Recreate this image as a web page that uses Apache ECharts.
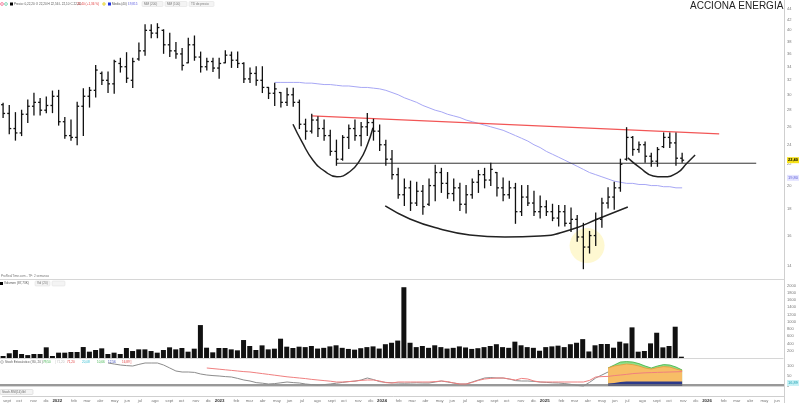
<!DOCTYPE html>
<html><head><meta charset="utf-8">
<script src="https://cdn.jsdelivr.net/npm/echarts@6/dist/echarts.min.js"></script>
<style>html,body{margin:0;padding:0;background:#fff}#c{width:799px;height:403px}</style>
</head><body><div id="c"></div>
<script>
// ---------- DATA (2-week bars, index 0 = early Sept 2021) ----------
const barOpen = [28.7,27.6,25.8,25.3,27.5,28.5,29.0,28.0,28.6,29.8,26.6,25.0,24.8,28.5,29.8,30.6,33.0,32.0,31.5,34.5,34.0,32.0,35.2,36.5,40.0,39.5,40.0,37.5,36.5,36.0,34.6,37.5,35.5,34.0,34.8,33.8,34.6,35.8,35.0,34.5,32.2,33.0,32.0,31.0,30.2,30.3,29.0,30.0,29.0,
 26.3,25.5,26.8,25.8,25.0,23.3,22.5,24.8,25.8,25.0,26.0,26.5,25.5,24.0,22.5,21.0,19.2,19.8,18.5,19.5,18.4,20.0,21.2,20.2,19.3,19.8,18.4,19.2,20.3,21.0,20.5,21.2,19.8,19.2,19.8,17.8,19.0,18.5,17.8,18.2,17.8,17.3,17.8,16.9,17.2,15.9,15.2,16.0,
 17.2,18.5,19.0,19.8,22.5,24.8,23.5,24.0,22.8,22.3,23.8,24.8,24.2,22.6];
const barHigh = [28.9,28.6,27.7,28.0,29.3,30.2,29.5,29.7,30.5,30.6,27.1,26.8,29.0,30.8,31.0,34.2,33.2,33.2,35.0,35.3,36.2,35.3,37.8,41.0,41.0,41.2,40.1,39.5,37.9,36.9,38.6,39.0,36.3,35.3,35.3,35.3,36.5,36.3,36.3,34.6,33.8,34.0,34.0,31.0,31.6,30.3,30.9,30.9,29.3,
 26.9,27.5,27.2,26.8,25.6,24.5,25.0,26.2,26.8,26.5,27.6,26.9,26.2,24.5,23.4,21.6,20.6,20.4,20.3,20.0,20.6,21.9,21.6,21.2,20.6,20.2,20.0,20.6,21.4,21.6,22.1,21.2,20.7,20.4,20.2,20.0,20.0,19.5,19.1,18.7,18.4,18.3,18.3,18.1,17.5,16.9,16.3,17.7,
 18.9,19.8,20.3,22.5,25.9,24.9,24.3,24.3,23.1,23.7,25.3,25.3,25.3,23.1];
const barLow = [27.1,25.2,24.5,25.0,26.5,27.4,27.4,27.7,27.7,26.2,24.7,24.5,24.0,25.0,28.4,29.7,31.4,30.3,30.2,33.2,31.7,31.0,35.0,35.8,38.7,38.7,36.1,35.6,35.3,33.5,34.6,35.0,33.2,33.5,33.3,32.3,34.6,33.9,33.9,31.7,31.7,31.3,30.3,29.5,28.6,28.4,28.6,28.5,25.8,
 24.6,25.3,24.9,24.5,22.9,21.9,22.4,23.6,24.5,23.9,25.0,24.5,23.4,21.9,20.6,18.9,18.3,17.9,18.3,17.6,18.3,18.7,19.4,18.9,18.7,17.9,17.7,18.9,19.4,19.8,20.0,19.1,18.7,18.9,16.9,17.5,18.3,17.5,17.3,17.5,17.1,16.7,16.7,16.3,15.6,13.8,14.8,15.3,
 16.6,18.1,18.0,19.5,22.4,22.9,23.2,22.2,21.8,21.8,23.7,23.7,21.9,22.2];
const barClose = [27.6,25.8,25.3,27.5,28.5,29.0,28.0,28.6,29.8,26.6,25.0,24.8,28.5,29.8,30.6,33.5,32.0,31.5,34.8,34.0,32.3,34.8,36.5,40.0,39.5,40.5,37.5,36.5,36.0,34.2,37.5,35.5,34.0,34.8,33.8,34.5,35.8,35.0,34.5,32.2,33.0,32.0,31.0,30.2,30.8,29.0,30.0,29.0,26.3,
 25.5,26.8,25.8,25.0,23.3,22.5,24.8,25.8,25.0,26.0,26.5,25.5,24.0,22.5,21.0,19.2,19.8,18.5,19.5,18.2,20.0,21.2,20.2,19.3,19.8,18.4,19.2,20.3,21.0,20.5,21.5,19.8,19.2,19.8,17.8,19.0,18.5,17.8,18.2,17.8,17.3,17.8,16.9,17.2,15.9,15.2,16.0,17.2,
 18.5,19.0,19.8,22.0,24.8,23.5,24.0,22.8,22.3,23.5,24.8,24.2,22.6,22.4];
const volume = [55,130,220,110,80,110,110,294,55,147,147,165,165,302,174,220,266,110,147,110,275,192,238,238,192,147,220,294,238,275,174,257,907,284,156,275,275,238,211,495,330,220,348,238,257,532,312,275,312,
 300,330,260,280,320,350,280,250,230,270,300,320,260,380,420,480,1950,420,300,330,280,350,300,260,280,320,290,250,270,300,330,380,300,280,450,350,300,280,200,300,320,340,300,380,420,520,180,350,
 385,385,284,449,403,844,174,193,403,696,293,330,862,36];
const maStart = 44;
const ma200 = [31.7,31.7,31.7,31.7,31.7,31.6,31.6,31.5,31.4,31.4,31.3,31.2,31.2,31.1,31.0,31.0,30.9,30.8,30.6,30.3,30.0,29.6,29.3,29.0,28.6,28.3,28.0,27.8,27.5,27.3,27.1,26.8,26.6,26.4,26.2,26.0,25.8,25.6,25.3,25.0,24.7,24.4,24.0,23.7,23.3,23.0,22.7,22.4,22.1,21.8,21.5,21.2,21.0,20.8,20.6,20.4,20.3,20.2,20.2,20.1,20.1,20.0,20.0,19.9,19.9,19.8,19.8];
const stochKStart = 17;
const stochK = [115,110,105,102,100,108,115,115,115,105,90,75,70,70,68,60,55,52,50,47,45,38,30,25,17,14,10,12,16,20,17,15,10,7,5,7,10,14,18,22,24,30,40,32,22,18,16,15,14,15,16,15,15,20,25,20,15,10,10,20,30,40,42,40,40,35,27,25,25,23,20,18,16,15,12,8,3,0,18,40,55,70];
const stochDStart = 33;
const stochD = [90,87,84,81,78,75,72,70,66,62,58,54,50,46,43,40,37,33,30,27,24,20,20,22,25,28,30,30,25,17,15,20,20,20,20,20,20,22,25,22,15,10,10,18,28,35,38,40,40,35,30,38,35,25,20,20,20,20,20,20,20,20,28,45,47,48,52,55,58,62,64,66,67,68,69,70,71,72];
const fillStart = 98;
const fillNavyTop   = [12,15,20,22,22,22,22,22,22,22,22,22,22];
const fillOrangeTop = [90,100,105,110,107,100,90,85,92,97,95,85,77];
const fillGreenTop  = [90,105,120,122,120,112,100,90,100,107,105,95,80];
// drawn annotations, in [bar index, price]
const resistanceLine = [[50,27.3],[116,25.2]];
const necklineLine = [[54,22.1],[122,22.1]];
const arcLeft  = [[46.96,26.3],[48.42,24.3],[50.2,22.4],[52.15,21.3],[54.09,20.8],[56.2,21.3],[57.8,22.4],[58.95,23.9],[59.92,25.9]];
const arcBig   = [[61.9,18.26],[65.9,17.23],[70.8,16.48],[75.6,16.04],[81.3,15.9],[87.0,15.97],[91.8,16.4],[96.7,17.31],[101.2,18.18]];
const arcRight = [[101.2,22.63],[103.2,21.64],[105.3,20.88],[106.9,20.8],[109.2,21.16],[110.8,22.12],[112.1,22.93]];
const lowMarker = [94.6,15.3];
// axis ticks / labels
const priceTicks = [14,16,18,20,22,24,26,28,30,32,34,36,38,40,42,44];
const stochTicks = [0,50,100];
const monthNames = ['ene','feb','mar','abr','may','jun','jul','ago','sept','oct','nov','dic'];
const maTagValue = 20.7;
const stochTagValue = 15;
const slotCount = 127;
const axisStart = Date.UTC(2021,7,31);
const axisEnd = axisStart + 1757*86400000;

// ---------- CHART ----------
const FF = 'Liberation Sans, Arial, sans-serif';
const chart = echarts.init(document.getElementById('c'), null, {renderer:'canvas'});
const ohlc = barOpen.map((o,i)=>[i,o,barHigh[i],barLow[i],barClose[i]]);
const lastPrice = barClose[barClose.length-1];
const idx = (arr,start)=>arr.map((v,k)=>[start+k,v]);
const fmt = v => v.toFixed(2).replace('.',',');

function renderOHLC(params, api){
  const x = api.value(0);
  const o = api.coord([x, api.value(1)]);
  const h = api.coord([x, api.value(2)]);
  const l = api.coord([x, api.value(3)]);
  const c = api.coord([x, api.value(4)]);
  const st = {stroke:'#111', lineWidth:1.3};
  return {type:'group', children:[
    {type:'line', shape:{x1:h[0],y1:h[1]-0.5,x2:l[0],y2:l[1]+0.5}, style:st},
    {type:'line', shape:{x1:o[0]-2,y1:o[1],x2:o[0],y2:o[1]}, style:st},
    {type:'line', shape:{x1:c[0],y1:c[1],x2:c[0]+2,y2:c[1]}, style:st}
  ]};
}
const xv = (g)=>({type:'value', gridIndex:g, min:-0.5, max:slotCount-0.5, axisLabel:{show:false}, axisTick:{show:false}, splitLine:{show:false},
  axisLine:{show:true, lineStyle:{color:'#d6d6d6', width:1}}});
const gridR = 15;

const tickMarks = priceTicks.map(v=>({yAxis:v}));
tickMarks.push({yAxis:maTagValue, label:{color:'#5b5bd6', backgroundColor:'#e4e4ff', padding:[1,1], formatter: fmt(ma200[ma200.length-1])}});
tickMarks.push({yAxis:lastPrice, label:{color:'#000', backgroundColor:'#f7e21b', padding:[1,1], fontWeight:'bold', formatter: fmt(lastPrice)}});

const option = {
  animation:false,
  useUTC:true,
  backgroundColor:'#fff',
  textStyle:{fontFamily:FF},
  grid:[
    {left:0, right:gridR, top:0, height:279},
    {left:0, right:gridR, top:280, height:78},
    {left:0, right:gridR, top:360, height:28},
    {left:0, right:gridR, top:388, height:8}
  ],
  xAxis:[
    xv(0), xv(1), xv(2),
    {type:'time', gridIndex:3, position:'bottom', min:axisStart, max:axisEnd, minInterval:28*86400000, maxInterval:31*86400000,
     axisLine:{show:true, lineStyle:{color:'#cfcfcf'}}, axisTick:{show:false}, splitLine:{show:false},
     axisLabel:{fontSize:4.2, color:'#777', align:'left', margin:3, fontFamily:FF, hideOverlap:false,
       formatter:(v)=>{const d=new Date(v); return d.getUTCMonth()===0?'':monthNames[d.getUTCMonth()];}}},
    {type:'time', gridIndex:3, position:'bottom', offset:0, min:axisStart, max:axisEnd, minInterval:28*86400000, maxInterval:31*86400000,
     axisLine:{show:false}, axisTick:{show:false}, splitLine:{show:false},
     axisLabel:{fontSize:4.4, color:'#333', fontWeight:'bold', align:'center', margin:3, fontFamily:FF, hideOverlap:false,
       formatter:(v)=>{const d=new Date(v); return d.getUTCMonth()===0?String(d.getUTCFullYear()):'';}}}
  ],
  yAxis:[
    {type:'log', gridIndex:0, position:'right', min:13.18, max:45.8, axisLine:{show:false}, axisTick:{show:false}, axisLabel:{show:false}, splitLine:{show:false}},
    {type:'value', gridIndex:1, position:'right', min:0, max:2149, interval:200, axisLine:{show:false}, axisTick:{show:false}, splitLine:{show:false},
     axisLabel:{fontSize:4, color:'#777', margin:4, showMaxLabel:false, showMinLabel:false, fontFamily:FF, formatter:(v)=>String(v)}},
    {type:'value', gridIndex:2, position:'right', min:-10, max:130, axisLine:{show:false}, axisTick:{show:false}, axisLabel:{show:false}, splitLine:{show:false}},
    {type:'value', gridIndex:3, position:'right', min:0, max:1, show:false}
  ],
  graphic:[
    {type:'line', shape:{x1:784.5,y1:0,x2:784.5,y2:403}, style:{stroke:'#cfcfcf', lineWidth:1}, silent:true},
    {type:'text', x:690, y:6.5, style:{text:'ACCIONA ENERGIA', fontSize:10, fill:'#222', fontFamily:FF, verticalAlign:'middle'}},
    // header legend
    {type:'circle', shape:{cx:2,cy:4,r:1.4}, style:{fill:'#fff', stroke:'#e36', lineWidth:0.6}},
    {type:'circle', shape:{cx:6,cy:4,r:1.4}, style:{fill:'#fff', stroke:'#3b8', lineWidth:0.6}},
    {type:'rect', shape:{x:10,y:2.5,width:3,height:3}, style:{fill:'#000'}},
    {type:'text', x:14, y:4, style:{text:'Precio: 0,22,20 O 22,20 H 22,56 L 22,10 C 22,40', fontSize:3.1, fill:'#555', fontFamily:FF, verticalAlign:'middle'}},
    {type:'text', x:77, y:4, style:{text:'22,40 (+1,36 %)  ', fontSize:3.1, fill:'#e23b3b', fontFamily:FF, verticalAlign:'middle'}},
    {type:'circle', shape:{cx:104,cy:4,r:1.4}, style:{fill:'#ffe86b', stroke:'#cc4', lineWidth:0.5}},
    {type:'rect', shape:{x:108,y:2.5,width:3,height:3}, style:{fill:'#2233dd'}},
    {type:'text', x:112, y:4, style:{text:'Media (40) :', fontSize:3.1, fill:'#555', fontFamily:FF, verticalAlign:'middle'}},
    {type:'text', x:128, y:4, style:{text:'19,815', fontSize:3.1, fill:'#5a5ae0', fontFamily:FF, verticalAlign:'middle'}},
    {type:'rect', shape:{x:142,y:1.5,width:21,height:5,r:1}, style:{fill:'#f4f4f4', stroke:'#ddd', lineWidth:0.5}},
    {type:'text', x:144, y:4, style:{text:'MM (200)', fontSize:3.1, fill:'#777', fontFamily:FF, verticalAlign:'middle'}},
    {type:'rect', shape:{x:165,y:1.5,width:22,height:5,r:1}, style:{fill:'#f4f4f4', stroke:'#ddd', lineWidth:0.5}},
    {type:'text', x:167, y:4, style:{text:'MM (100)', fontSize:3.1, fill:'#777', fontFamily:FF, verticalAlign:'middle'}},
    {type:'rect', shape:{x:189,y:1.5,width:25,height:5,r:1}, style:{fill:'#f4f4f4', stroke:'#ddd', lineWidth:0.5}},
    {type:'text', x:191, y:4, style:{text:'TD de precio', fontSize:3.1, fill:'#777', fontFamily:FF, verticalAlign:'middle'}},
    // watermark + volume legend
    {type:'text', x:1, y:276.5, style:{text:'ProRealTime.com - TF: 2 semanas', fontSize:3.1, fill:'#777', fontFamily:FF, verticalAlign:'middle'}},
    {type:'rect', shape:{x:0,y:282,width:3,height:3}, style:{fill:'#000'}},
    {type:'text', x:4, y:283.5, style:{text:'Volumen (87,73K)', fontSize:3.1, fill:'#555', fontFamily:FF, verticalAlign:'middle'}},
    {type:'rect', shape:{x:35,y:281,width:15,height:5,r:1}, style:{fill:'#f4f4f4', stroke:'#ddd', lineWidth:0.5}},
    {type:'text', x:37, y:283.5, style:{text:'Vol (20)', fontSize:3.1, fill:'#777', fontFamily:FF, verticalAlign:'middle'}},
    {type:'rect', shape:{x:52,y:281,width:13,height:5,r:1}, style:{fill:'#f4f4f4', stroke:'#ddd', lineWidth:0.5}},
    // stoch legend
    {type:'circle', shape:{cx:2,cy:362,r:1.4}, style:{fill:'#fff', stroke:'#999', lineWidth:0.6}},
    {type:'text', x:5, y:362, style:{text:'Stoch Estocástico ( 80, 20 ) :', fontSize:3.1, fill:'#555', fontFamily:FF, verticalAlign:'middle'}},
    {type:'text', x:43, y:362, style:{text:'79,50', fontSize:3.1, fill:'#3bb34a', fontFamily:FF, verticalAlign:'middle'}},
    {type:'text', x:55, y:362, style:{text:'| 71,20 ', fontSize:3.1, fill:'#bbb', fontFamily:FF, verticalAlign:'middle'}},
    {type:'text', x:67, y:362, style:{text:'71,20', fontSize:3.1, fill:'#e23b3b', fontFamily:FF, verticalAlign:'middle'}},
    {type:'text', x:82, y:362, style:{text:'20,08', fontSize:3.1, fill:'#2bbbd0', fontFamily:FF, verticalAlign:'middle'}},
    {type:'text', x:97, y:362, style:{text:'10,66', fontSize:3.1, fill:'#3bb34a', fontFamily:FF, verticalAlign:'middle'}},
    {type:'text', x:108, y:362, style:{text:'12,56', fontSize:3.1, fill:'#3344bb', fontFamily:FF, verticalAlign:'middle'}},
    {type:'text', x:122, y:362, style:{text:'16,89 ]', fontSize:3.1, fill:'#e23b3b', fontFamily:FF, verticalAlign:'middle'}},
    // bottom strip
    {type:'rect', shape:{x:0,y:389.5,width:33,height:5,r:1}, style:{fill:'#f4f4f4', stroke:'#ccc', lineWidth:0.5}},
    {type:'text', x:2, y:392, style:{text:'Stoch.RSI(14) lbl', fontSize:3.1, fill:'#666', fontFamily:FF, verticalAlign:'middle'}}
  ],
  series:[
    {type:'scatter', xAxisIndex:0, yAxisIndex:0, data:[lowMarker], symbolSize:35, itemStyle:{color:'rgba(252,239,150,0.55)'}, z:1, silent:true},
    {type:'line', xAxisIndex:0, yAxisIndex:0, data:idx(ma200,maStart), showSymbol:false, lineStyle:{color:'#a7a7f5', width:1}, z:2, silent:true,
     markLine:{symbol:'none', silent:true, animation:false, lineStyle:{color:'rgba(0,0,0,0)', width:0},
       label:{show:true, position:'end', distance:3, fontSize:4, color:'#777', fontFamily:FF, formatter:(p)=>String(Math.round(p.value))},
       data:tickMarks}},
    {type:'line', xAxisIndex:0, yAxisIndex:0, data:resistanceLine, showSymbol:false, lineStyle:{color:'#f25656', width:1.2}, z:3, silent:true},
    {type:'line', xAxisIndex:0, yAxisIndex:0, data:necklineLine, showSymbol:false, lineStyle:{color:'#333', width:1}, z:3, silent:true},
    {type:'line', xAxisIndex:0, yAxisIndex:0, data:arcLeft, smooth:true, showSymbol:false, lineStyle:{color:'#222', width:1.5}, z:3, silent:true},
    {type:'line', xAxisIndex:0, yAxisIndex:0, data:arcBig, smooth:true, showSymbol:false, lineStyle:{color:'#222', width:1.5}, z:3, silent:true},
    {type:'line', xAxisIndex:0, yAxisIndex:0, data:arcRight, smooth:true, showSymbol:false, lineStyle:{color:'#222', width:1.5}, z:3, silent:true},
    {type:'custom', xAxisIndex:0, yAxisIndex:0, renderItem:renderOHLC, encode:{x:0, y:[1,2,3,4]}, data:ohlc, z:5, silent:true},
    // volume
    {type:'bar', xAxisIndex:1, yAxisIndex:1, data:idx(volume,0), barWidth:5, itemStyle:{color:'#111'}, silent:true},
    // stochastic panel
    {type:'line', xAxisIndex:2, yAxisIndex:2, data:idx(fillGreenTop,fillStart), showSymbol:false, lineStyle:{width:0.8, color:'#3fae3f'}, areaStyle:{color:'#8fe08a', opacity:1}, z:2, silent:true},
    {type:'line', xAxisIndex:2, yAxisIndex:2, data:idx(fillOrangeTop,fillStart), showSymbol:false, lineStyle:{width:0.8, color:'#e39a3a'}, areaStyle:{color:'#f7bd66', opacity:1}, z:3, silent:true},
    {type:'line', xAxisIndex:2, yAxisIndex:2, data:idx(fillNavyTop,fillStart), showSymbol:false, lineStyle:{width:0}, areaStyle:{color:'#2c3a8a', opacity:1}, z:4, silent:true},
    {type:'line', xAxisIndex:2, yAxisIndex:2, data:[[-0.5,5],[slotCount-0.5,5]], showSymbol:false, lineStyle:{color:'#777', width:1.4}, z:5, silent:true,
     markLine:{symbol:'none', silent:true, animation:false, lineStyle:{color:'rgba(0,0,0,0)', width:0},
       label:{show:true, position:'end', distance:3, fontSize:4, color:'#777', fontFamily:FF, formatter:(p)=>String(p.value)},
       data: stochTicks.map(v=>({yAxis:v})).concat([{yAxis:stochTagValue, label:{color:'#1a9fb0', backgroundColor:'#c9f2f6', padding:[1,1], formatter:'16,89'}}])}},
    {type:'line', xAxisIndex:2, yAxisIndex:2, data:idx(stochK,stochKStart), showSymbol:false, lineStyle:{color:'#8c8c8c', width:1}, z:6, silent:true},
    {type:'line', xAxisIndex:2, yAxisIndex:2, data:idx(stochD,stochDStart), showSymbol:false, lineStyle:{color:'#f07f7f', width:1}, z:6, silent:true}
  ]
};
chart.setOption(option);
</script>
</body></html>
